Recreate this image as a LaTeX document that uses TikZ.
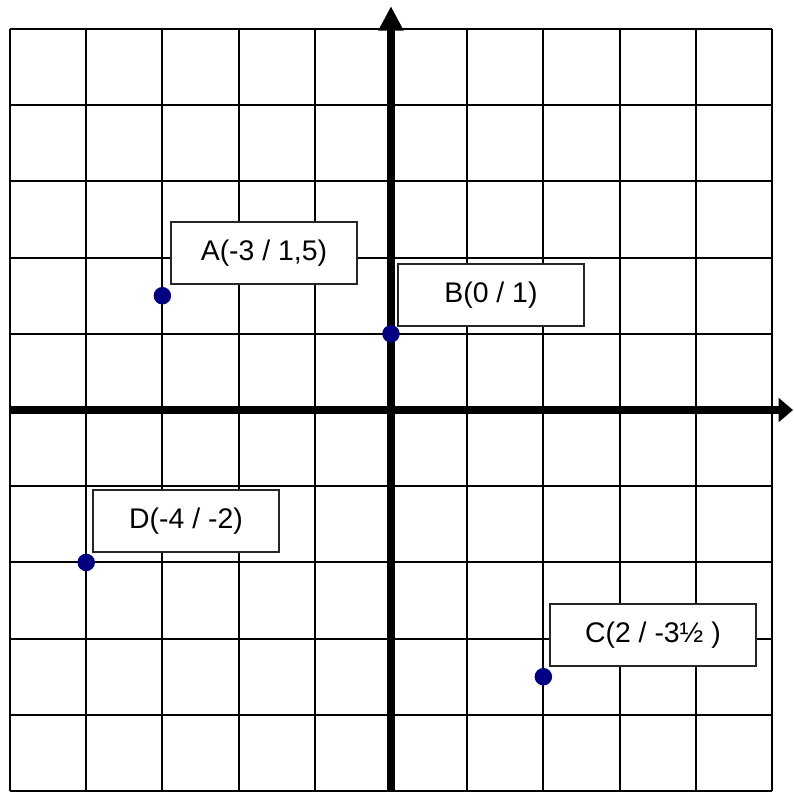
\documentclass[tikz,border=0pt]{standalone}
\usepackage{fontspec}
\setmainfont{Liberation Sans}
\usetikzlibrary{arrows.meta, positioning}
\definecolor{pointNavy}{HTML}{000080}
\tikzset{
    grid line/.style={line width=0.75pt, black},
    axis line/.style={line width=2.8pt, black},
    point dot/.style={circle, fill=pointNavy, inner sep=0pt, minimum size=0.23cm},
    label box/.style={rectangle, draw=black!85, fill=white, line width=0.75pt, minimum width=2.44cm, minimum height=0.82cm, align=center, font=\fontsize{10.6}{12}\selectfont},
}

\begin{document}
\begin{tikzpicture}
    \useasboundingbox[fill=white] (-5.131,-5.026) rectangle (5.289,5.381);
    % grid
    \foreach \i in {-5,...,5} {
        \draw[grid line] (\i,-5) -- (\i,5);
        \draw[grid line] (-5,\i) -- (5,\i);
    }
    % axes
    \coordinate (xstart) at (-5,0);
    \coordinate (xend) at (5.276,0);
    \coordinate (ystart) at (0,-5);
    \coordinate (yend) at (0,5.30);
    \draw[axis line, -{Triangle[length=0.19cm, width=0.31cm]}] (xstart) -- (xend);
    \draw[axis line, -{Triangle[length=0.32cm, width=0.31cm]}] (ystart) -- (yend);
    % points
    \node[point dot] (ptA) at (-3,1.5) {};
    \node[point dot] (ptB) at (0,1) {};
    \node[point dot] (ptC) at (2,-3.5) {};
    \node[point dot] (ptD) at (-4,-2) {};
    % labels
    \node[label box] (labA) at (-1.667,2.06) {A(-3 / 1,5)};
    \node[label box] (labB) at (1.312,1.509) {B(0 / 1)};
    \node[label box, minimum width=2.70cm] (labC) at (3.438,-2.953) {C(2 / -3½ )};
    \node[label box] (labD) at (-2.69,-1.457) {D(-4 / -2)};
\end{tikzpicture}
\end{document}
